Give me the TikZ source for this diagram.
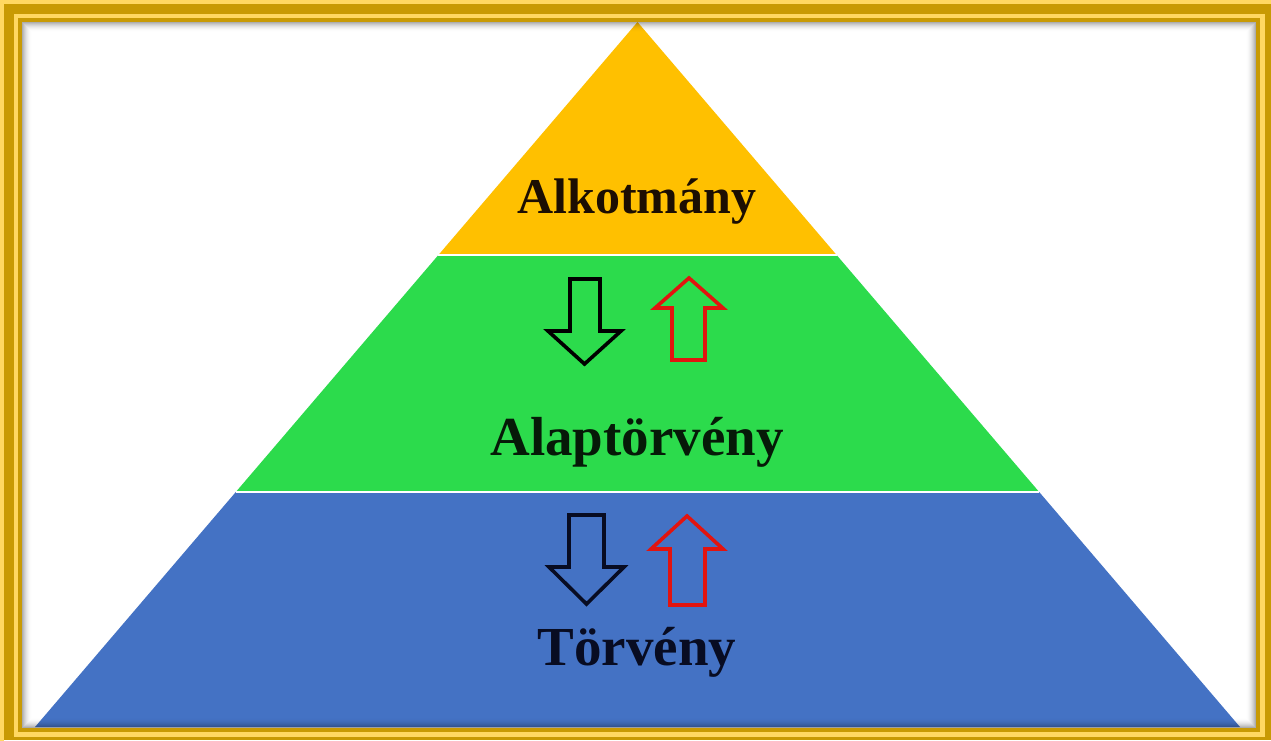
\documentclass[tikz,border=0pt]{standalone}
\usepackage{fontspec}
\setmainfont{Liberation Serif}
\definecolor{golddark}{HTML}{C89A04}
\definecolor{goldlight}{HTML}{FFD862}
\definecolor{pyryellow}{HTML}{FFC000}
\definecolor{pyrgreen}{HTML}{2CDB4C}
\definecolor{pyrblue}{HTML}{4472C4}
\definecolor{arrred}{HTML}{E2140F}
\definecolor{txtbrown}{HTML}{1C0E02}
\definecolor{txtgreen}{HTML}{061A08}
\definecolor{txtblue}{HTML}{080C22}
\tikzset{
  lbl/.style={anchor=base, inner sep=0pt, font=\bfseries\fontsize{#1}{#1}\selectfont},
  arrblack/.style={draw=black, line width=3.6pt, line join=miter},
  arrredst/.style={draw=arrred, line width=3.6pt, line join=miter},
  sep/.style={draw=white, line width=2pt}
}
\begin{document}
\begin{tikzpicture}[x=1pt,y=-1pt]
\useasboundingbox (0,0) rectangle (1271,740);
% frame
\fill[golddark] (0,0) rectangle (1271,740);
\begin{scope}
\clip (0,0) rectangle (1271,740);
\draw[goldlight, line width=4pt] (2,2) rectangle (1300,770);
\draw[goldlight, line width=4.5pt] (16,16) rectangle (1262.5,734.5);
\end{scope}
\fill[white] (22,22) rectangle (1256,728);
% pyramid
\coordinate (apex) at (637.5,22);
\coordinate (yl) at (438.4,255);
\coordinate (yr) at (836.6,255);
\coordinate (gl) at (235.8,492);
\coordinate (gr) at (1039.2,492);
\coordinate (bl) at (35,727);
\coordinate (br) at (1240,727);
\fill[pyryellow] (apex) -- (yl) -- (yr) -- cycle;
\fill[pyrgreen] (yl) -- (gl) -- (gr) -- (yr) -- cycle;
\fill[pyrblue] (gl) -- (bl) -- (br) -- (gr) -- cycle;
\draw[sep] (yl) -- (yr);
\draw[sep] (gl) -- (gr);
% inner shadow (gradient)
\foreach \i in {0,...,9} {
  \pgfmathsetmacro{\op}{0.32*(1-\i/10)^2}
  \draw[black, opacity=\op, line width=1pt] ({22.5+\i},{22.5+\i}) rectangle ({1255.5-\i},{727.5-\i});
}
% texts
\node[lbl=50, text=txtbrown] (alk) at (637,213) {Alkotmány};
\node[lbl=55, text=txtgreen] (alap) at (637,455) {Alaptörvény};
\node[lbl=55, text=txtblue] (torv) at (637,665) {Törvény};
% arrows in green layer
\draw[arrblack] (570,279) -- (600,279) -- (600,331) -- (621,331) -- (584.5,364) -- (548,331) -- (570,331) -- cycle;
\draw[arrredst] (689,278) -- (723,308) -- (705,308) -- (705,360) -- (672,360) -- (672,308) -- (655,308) -- cycle;
% arrows in blue layer
\draw[arrblack, draw=txtblue] (569,515) -- (604,515) -- (604,567) -- (624,567) -- (586.5,604) -- (549,567) -- (569,567) -- cycle;
\draw[arrredst] (687,516) -- (723,549) -- (705,549) -- (705,605) -- (670,605) -- (670,549) -- (651,549) -- cycle;
\end{tikzpicture}
\end{document}
